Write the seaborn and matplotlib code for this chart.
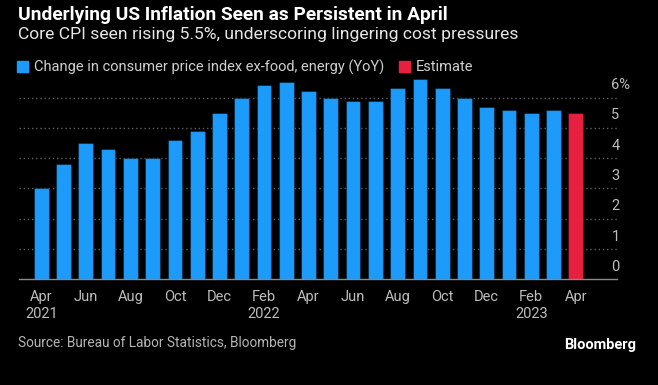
import matplotlib
matplotlib.use("Agg")
import matplotlib.pyplot as plt
import matplotlib.transforms as mtransforms
from matplotlib.patches import Patch
import pandas as pd
import seaborn as sns

# data (core CPI YoY, %)
months = ["Apr", "May", "Jun", "Jul", "Aug", "Sep", "Oct", "Nov", "Dec",
          "Jan", "Feb", "Mar", "Apr", "May", "Jun", "Jul", "Aug", "Sep", "Oct", "Nov", "Dec",
          "Jan", "Feb", "Mar", "Apr"]
years = [2021] * 9 + [2022] * 12 + [2023] * 4
core_cpi = [3.0, 3.8, 4.5, 4.3, 4.0, 4.0, 4.6, 4.9, 5.5,
            6.0, 6.4, 6.5, 6.2, 6.0, 5.9, 5.9, 6.3, 6.6, 6.3, 6.0, 5.7,
            5.6, 5.5, 5.6, 5.5]
actual_name = "Change in consumer price index ex-food, energy (YoY)"
estimate_name = "Estimate"
series = [actual_name] * 24 + [estimate_name]
tick_labels = ["Apr\n2021", "Jun", "Aug", "Oct", "Dec", "Feb\n2022", "Apr",
               "Jun", "Aug", "Oct", "Dec", "Feb\n2023", "Apr"]
y_ticks = [0, 1, 2, 3, 4, 5, 6]
y_labels = ["0", "1", "2", "3", "4", "5", "6%"]

blue = "#1d9bfb"
red = "#e8203f"

sns.set_style("dark")
plt.rcParams['font.family'] = ['Liberation Sans Narrow', 'Roboto', 'DejaVu Sans']

df = pd.DataFrame({
    "period": [f"{m} {y}" for m, y in zip(months, years)],
    "value": core_cpi,
    "series": series,
})

fig = plt.figure(figsize=(6.58, 3.85), dpi=100, facecolor="black")
ax = fig.add_axes([19 / 658, 1 - 279.3 / 385, 598 / 658, 203 / 385])
ax.set_facecolor("black")

sns.barplot(data=df, x="period", y="value", hue="series",
            palette={actual_name: blue, estimate_name: red},
            dodge=False, width=0.66, saturation=1, legend=False, ax=ax,
            edgecolor=(0, 0, 0, 0.35), linewidth=0.8)

ax.set_xlim(-1, 25.85)
ax.set_ylim(0, 6.7)
ax.set_xlabel("")
ax.set_ylabel("")
for s in ["top", "right", "left"]:
    ax.spines[s].set_visible(False)
ax.spines["bottom"].set_color("#8a8a8a")
ax.spines["bottom"].set_linewidth(1.0)

ax.set_xticks(range(0, 25, 2), tick_labels)
ax.tick_params(axis="x", colors="#8a8a8a", labelcolor="#bdbdbd", length=5,
               width=1, labelsize=10.5, pad=3)

ax.yaxis.tick_right()
ax.set_yticks(y_ticks, y_labels)
ax.tick_params(axis="y", length=0, labelcolor="#bdbdbd", labelsize=10.5, pad=-4)
offset = mtransforms.ScaledTranslation(0, 0.14, fig.dpi_scale_trans)
for lab in ax.get_yticklabels():
    lab.set_transform(lab.get_transform() + offset)
    lab.set_horizontalalignment("left")

ax.grid(False)
for v in y_ticks[1:]:
    ax.axhline(v, color="#616161", linestyle=(0, (1, 2)), linewidth=1, zorder=0)

fig.text(18 / 658, 1 - 15 / 385, "Underlying US Inflation Seen as Persistent in April",
         color="white", fontsize=13.8, fontweight="bold", va="center")
fig.text(18 / 658, 1 - 35 / 385, "Core CPI seen rising 5.5%, underscoring lingering cost pressures",
         color="#e6e6e6", fontsize=12.6, va="center")

fig.legend(handles=[Patch(color=blue, label=actual_name), Patch(color=red, label=estimate_name)],
           loc="center left", bbox_to_anchor=(17 / 658, 1 - 67 / 385), ncol=2, frameon=False,
           borderpad=0, borderaxespad=0, handlelength=0.75, handleheight=0.75,
           handletextpad=0.4, columnspacing=1.0, fontsize=10.5, labelcolor="#cfcfcf")

fig.text(18 / 658, 1 - 343 / 385, "Source: Bureau of Labor Statistics, Bloomberg",
         color="#b5b5b5", fontsize=9.8, va="center")
fig.text(636 / 658, 1 - 345 / 385, "Bloomberg", color="white", fontsize=10.5,
         fontweight="bold", va="center", ha="right")

fig.savefig("out.png", dpi=100, facecolor="black")
